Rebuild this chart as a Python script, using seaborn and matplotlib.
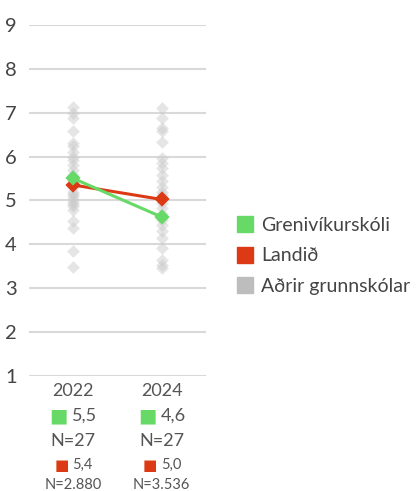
import matplotlib
matplotlib.use('Agg')
import matplotlib.pyplot as plt
import pandas as pd
import numpy as np
import seaborn as sns
from matplotlib.lines import Line2D

# Data
years = ['2022', '2024']
school_name = 'Grenivíkurskóli'
country_name = 'Landið'
others_name = 'Aðrir grunnskólar'
school_vals = [5.50, 4.62]
country_vals = [5.35, 5.02]
school_labels = ['5,5', '4,6']
country_labels = ['5,4', '5,0']
school_n = ['N=27', 'N=27']
country_n = ['N=2.880', 'N=3.536']
others_2022 = [7.13, 6.99, 6.88, 6.59, 6.31, 6.23, 6.11, 6.00, 5.92, 5.81, 5.70, 5.58,
               5.47, 5.40, 5.31, 5.20, 5.15, 5.09, 5.02, 4.97, 4.92, 4.86, 4.78, 4.52,
               4.37, 3.85, 3.49]
others_2024 = [7.10, 6.88, 6.65, 6.59, 6.34, 5.96, 5.85, 5.73, 5.58, 5.43, 5.31, 5.20,
               5.13, 5.05, 4.95, 4.82, 4.70, 4.55, 4.44, 4.29, 4.14, 3.91, 3.64, 3.53,
               3.45]

green = '#66d966'
red = '#dc3a14'
grey = '#bdbdbd'
txt = '#555555'

sns.set_style('white')
plt.rcParams['font.family'] = ['Lato', 'DejaVu Sans']

df_others = pd.DataFrame({
    'year': [years[0]] * len(others_2022) + [years[1]] * len(others_2024),
    'value': others_2022 + others_2024,
})
df_main = pd.DataFrame({
    'year': years * 2,
    'value': school_vals + country_vals,
    'group': [school_name] * 2 + [country_name] * 2,
})

fig = plt.figure(figsize=(4.2, 4.91), dpi=100)
ax = fig.add_axes([29 / 420, 1 - 375.7 / 491, 177 / 420, 350.7 / 491])

sns.stripplot(data=df_others, x='year', y='value', order=years, jitter=False,
              marker='D', size=6.5, color='#cccccc', alpha=0.5, linewidth=0, ax=ax, zorder=3)
sns.pointplot(data=df_main, x='year', y='value', hue='group', order=years,
              hue_order=[country_name, school_name], palette=[red, green],
              markers='D', markersize=6.5, linewidth=2.2, errorbar=None, legend=False,
              ax=ax, zorder=5)

ax.set_xlim(-0.5, 1.5)
ax.set_ylim(1, 9)
ax.set_yticks(range(1, 10))
ax.grid(axis='y', color='#d9d9d9', linewidth=1.5)
ax.set_axisbelow(True)
for s in ax.spines.values():
    s.set_visible(False)
ax.tick_params(axis='y', length=0, pad=9, labelsize=14.5, labelcolor='#444444')
ax.set_xticks([])
ax.set_xlabel('')
ax.set_ylabel('')

# labels under the axis
tr = ax.get_xaxis_transform()
def ypos(px):
    return (375.7 - px) / 350.7

for i, yr in enumerate(years):
    ax.text(i, ypos(391), yr, transform=tr, ha='center', va='center', fontsize=13, color=txt)
    ax.text(i - 0.167, ypos(416), '■', transform=tr, ha='center', va='center',
            fontsize=14, color=green, family='DejaVu Sans')
    ax.text(i - 0.012, ypos(416), school_labels[i], transform=tr, ha='left', va='center',
            fontsize=13, color=txt)
    ax.text(i, ypos(441), school_n[i], transform=tr, ha='center', va='center',
            fontsize=13, color=txt)
    ax.text(i - 0.13, ypos(465), '■', transform=tr, ha='center', va='center',
            fontsize=11, color=red, family='DejaVu Sans')
    ax.text(i - 0.01, ypos(465), country_labels[i], transform=tr, ha='left', va='center',
            fontsize=10.5, color=txt)
    ax.text(i, ypos(485), country_n[i], transform=tr, ha='center', va='center',
            fontsize=10.5, color=txt)

handles = [Line2D([], [], marker='s', linestyle='', markersize=11, color=c)
           for c in [green, red, grey]]
fig.legend(handles, [school_name, country_name, others_name], loc='center left',
           bbox_to_anchor=(237 / 420, 1 - 256 / 491), frameon=False, fontsize=14,
           handlelength=0.8, handletextpad=0.45, labelspacing=0.68, labelcolor='#444444',
           borderpad=0, borderaxespad=0)

fig.savefig('out.png', dpi=100)
